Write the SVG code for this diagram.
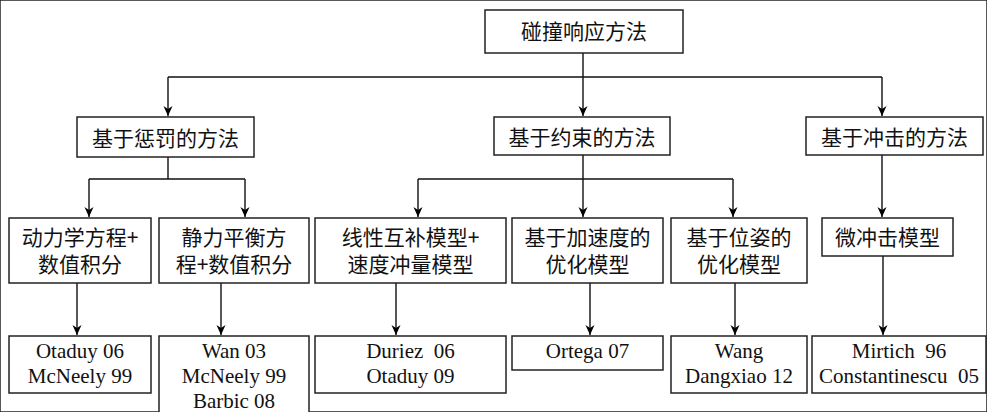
<svg xmlns="http://www.w3.org/2000/svg" width="987" height="412" viewBox="0 0 987 412">
<defs>
<marker id="arr" viewBox="0 0 10 10" refX="10" refY="5" markerWidth="10" markerHeight="10" markerUnits="userSpaceOnUse" orient="auto">
<path d="M0,0.5 L10,5 L0,9.5 L3,5 Z" fill="#000"/>
</marker>
</defs>
<style>
rect{fill:#fff;stroke:#222;stroke-width:1.5}
text{font-family:"Noto Sans CJK SC",sans-serif;font-size:21px;fill:#111;text-anchor:middle}
.c line,.c path{stroke:#111;stroke-width:1.4;fill:none}
</style>
<rect width="987" height="412" fill="#fff" stroke="none"/>
<g class="c" id="connectors">
<path d="M583,53 V77 M168,77 H882"/>
<line x1="168" y1="77" x2="168" y2="116" marker-end="url(#arr)"/>
<line x1="583" y1="77" x2="583" y2="116" marker-end="url(#arr)"/>
<line x1="882" y1="77" x2="882" y2="116" marker-end="url(#arr)"/>
<path d="M168,157 V179 M89,179 H245"/>
<line x1="89" y1="179" x2="89" y2="217" marker-end="url(#arr)"/>
<line x1="245" y1="179" x2="245" y2="217" marker-end="url(#arr)"/>
<path d="M583,155 V179 M418,179 H733"/>
<line x1="418" y1="179" x2="418" y2="217" marker-end="url(#arr)"/>
<line x1="583" y1="179" x2="583" y2="217" marker-end="url(#arr)"/>
<line x1="733" y1="179" x2="733" y2="217" marker-end="url(#arr)"/>
<line x1="882" y1="155" x2="882" y2="217" marker-end="url(#arr)"/>
<line x1="77" y1="283" x2="77" y2="335" marker-end="url(#arr)"/>
<line x1="221" y1="283" x2="221" y2="335" marker-end="url(#arr)"/>
<line x1="396" y1="283" x2="396" y2="335" marker-end="url(#arr)"/>
<line x1="590" y1="283" x2="590" y2="335" marker-end="url(#arr)"/>
<line x1="735" y1="283" x2="735" y2="335" marker-end="url(#arr)"/>
<line x1="883" y1="256" x2="883" y2="335" marker-end="url(#arr)"/>
</g>
<g id="root"><rect x="485" y="10" width="198" height="43"/><text x="584" y="39">碰撞响应方法</text></g>
<g id="penalty"><rect x="77" y="117" width="177" height="40"/><text x="165.5" y="146">基于惩罚的方法</text></g>
<g id="constraint"><rect x="494" y="117" width="176" height="38"/><text x="582" y="145">基于约束的方法</text></g>
<g id="impulse"><rect x="806" y="117" width="177" height="38"/><text x="894.5" y="145">基于冲击的方法</text></g>
<g id="dyn"><rect x="9" y="218" width="142" height="65"/><text x="80" y="245">动力学方程+</text><text x="80" y="272">数值积分</text></g>
<g id="static"><rect x="159" y="218" width="150" height="65"/><text x="234" y="245">静力平衡方</text><text x="234" y="272">程+数值积分</text></g>
<g id="lcp"><rect x="315" y="218" width="191" height="65"/><text x="410.5" y="245">线性互补模型+</text><text x="410.5" y="272">速度冲量模型</text></g>
<g id="accel"><rect x="512" y="218" width="151" height="65"/><text x="587.5" y="245">基于加速度的</text><text x="587.5" y="272">优化模型</text></g>
<g id="pose"><rect x="671" y="218" width="136" height="65"/><text x="739" y="245">基于位姿的</text><text x="739" y="272">优化模型</text></g>
<g id="micro"><rect x="822" y="218" width="131" height="38"/><text x="887.5" y="245">微冲击模型</text></g>
<g font-family="'Liberation Serif','DejaVu Serif',serif" style="font-family:'Liberation Serif','DejaVu Serif',serif">
<g id="ref1"><rect x="9" y="336" width="142" height="57"/><text style="font-family:'Liberation Serif','DejaVu Serif',serif" x="80" y="358">Otaduy 06</text><text style="font-family:'Liberation Serif','DejaVu Serif',serif" x="80" y="383">McNeely 99</text></g>
<g id="ref2"><rect x="159" y="336" width="150" height="80"/><text style="font-family:'Liberation Serif','DejaVu Serif',serif" x="234" y="358">Wan 03</text><text style="font-family:'Liberation Serif','DejaVu Serif',serif" x="234" y="383">McNeely 99</text><text style="font-family:'Liberation Serif','DejaVu Serif',serif" x="234" y="408">Barbic 08</text></g>
<g id="ref3"><rect x="315" y="336" width="191" height="57"/><text style="font-family:'Liberation Serif','DejaVu Serif',serif" x="410.5" y="358" xml:space="preserve">Duriez  06</text><text style="font-family:'Liberation Serif','DejaVu Serif',serif" x="410.5" y="383">Otaduy 09</text></g>
<g id="ref4"><rect x="512" y="336" width="151" height="34"/><text style="font-family:'Liberation Serif','DejaVu Serif',serif" x="587.5" y="358">Ortega 07</text></g>
<g id="ref5"><rect x="671" y="336" width="136" height="57"/><text style="font-family:'Liberation Serif','DejaVu Serif',serif" x="739" y="358">Wang</text><text style="font-family:'Liberation Serif','DejaVu Serif',serif" x="739" y="383">Dangxiao 12</text></g>
<g id="ref6"><rect x="812" y="336" width="174" height="57"/><text style="font-family:'Liberation Serif','DejaVu Serif',serif" x="899" y="358" xml:space="preserve">Mirtich  96</text><text style="font-family:'Liberation Serif','DejaVu Serif',serif" x="899" y="383" xml:space="preserve">Constantinescu  05</text></g>
</g>
</svg>
